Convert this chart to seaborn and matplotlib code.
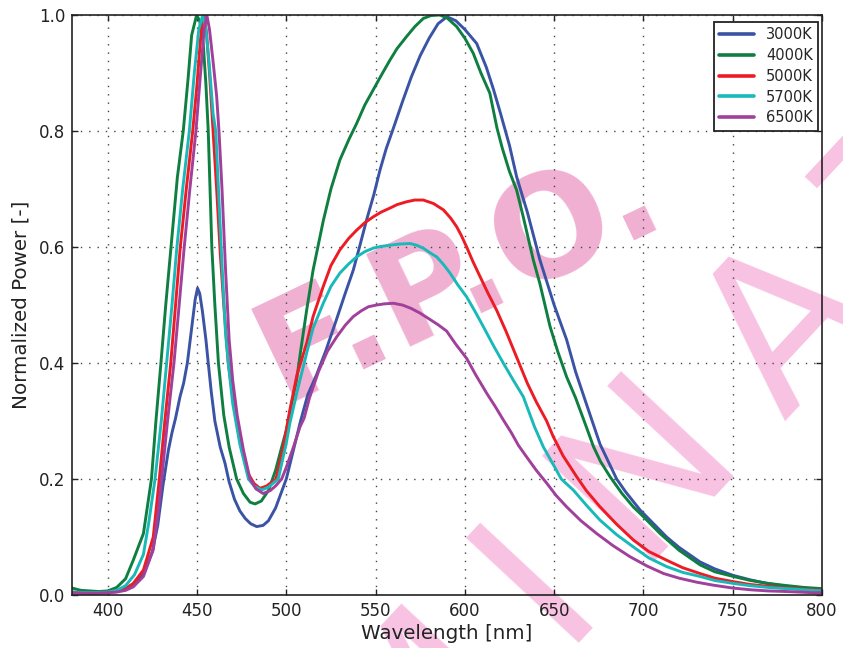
import pandas as pd
import seaborn as sns
from matplotlib import pyplot as plt

# LED spectra
cct_labels = ["3000K", "4000K", "5000K", "5700K", "6500K"]
line_colors = ["#3a53a4", "#0e7f41", "#ed1c24", "#1ab9b9", "#a1409b"]

wl_3000 = [380, 390, 400, 405, 410, 415, 420, 425, 428, 431, 434, 436, 438, 440.5, 442.5, 444.6,
           447, 449, 450.3, 451.5, 453, 455, 456.3, 458, 460, 463, 465.7, 468, 471, 474, 477, 480,
           483.4, 487, 490, 494, 497, 500, 504, 508, 512, 517, 522, 528, 533, 537.5, 541, 545, 549,
           552.5, 556, 560, 565, 570, 575, 580, 585, 590, 595, 600, 606.6, 612, 616, 620, 625, 629,
           635, 642, 650, 657, 662, 668, 675.7, 685, 690, 698, 705, 713, 720, 731.7, 740, 750, 760,
           769, 780, 790, 800]
pw_3000 = [0.005, 0.004, 0.005, 0.007, 0.012, 0.02, 0.036, 0.075, 0.12, 0.19, 0.25, 0.28, 0.305,
           0.342, 0.365, 0.4, 0.46, 0.51, 0.529, 0.52, 0.49, 0.44, 0.4, 0.35, 0.3, 0.255, 0.227,
           0.195, 0.165, 0.145, 0.132, 0.123, 0.118, 0.12, 0.128, 0.15, 0.175, 0.2, 0.25, 0.3,
           0.345, 0.38, 0.42, 0.474, 0.52, 0.56, 0.6, 0.647, 0.69, 0.733, 0.77, 0.805, 0.85, 0.893,
           0.93, 0.96, 0.985, 0.997, 0.99, 0.975, 0.951, 0.91, 0.872, 0.83, 0.775, 0.721, 0.66,
           0.578, 0.5, 0.44, 0.385, 0.33, 0.26, 0.2, 0.178, 0.147, 0.125, 0.1, 0.082, 0.057, 0.045,
           0.034, 0.026, 0.02, 0.015, 0.012, 0.009]

wl_4000 = [380, 385, 390, 395, 400, 405, 410, 414.3, 420, 424.5, 427, 429.8, 432.5, 435.3, 439,
           442.3, 445, 447, 449.8, 451.5, 453.5, 455, 456.3, 458.3, 460, 462, 465, 468, 472.2, 476,
           479.7, 482.5, 486, 490, 494, 497, 500, 503, 505.8, 508, 511.4, 515, 520.7, 525, 530,
           535, 539.4, 544, 548.7, 553, 558, 562, 567.4, 572, 576.7, 581, 586, 590, 595.4, 600,
           604.7, 609, 614, 618, 621, 625, 629, 632.7, 638.3, 642, 647.7, 652, 657, 662, 668, 672,
           676, 681.3, 688, 694.3, 700, 709.3, 720, 731.7, 740, 750.3, 760, 770, 778, 790, 800]
pw_4000 = [0.012, 0.008, 0.007, 0.006, 0.007, 0.013, 0.028, 0.06, 0.106, 0.2, 0.3, 0.4, 0.5,
           0.595, 0.72, 0.8, 0.89, 0.965, 1.0, 0.99, 0.95, 0.88, 0.8, 0.6, 0.5, 0.4, 0.31, 0.255,
           0.2, 0.175, 0.16, 0.157, 0.162, 0.18, 0.215, 0.25, 0.284, 0.33, 0.371, 0.42, 0.491,
           0.56, 0.645, 0.7, 0.75, 0.785, 0.813, 0.845, 0.871, 0.895, 0.922, 0.942, 0.963, 0.98,
           0.994, 0.999, 1.0, 0.995, 0.98, 0.96, 0.934, 0.9, 0.865, 0.805, 0.77, 0.73, 0.698,
           0.652, 0.578, 0.537, 0.463, 0.42, 0.376, 0.34, 0.29, 0.256, 0.23, 0.204, 0.175, 0.152,
           0.135, 0.106, 0.077, 0.052, 0.04, 0.032, 0.025, 0.02, 0.017, 0.013, 0.011]

wl_5000 = [380, 390, 400, 405, 410, 414.3, 420, 425.5, 428.9, 432, 435.3, 438, 440.5, 444, 447.6,
           450, 452, 453.7, 455.3, 457, 459, 461, 463, 465, 467.5, 470.5, 474, 478.5, 482, 485.3,
           489, 494.2, 498.4, 502, 506, 511.4, 515, 520.7, 525, 530, 535, 539.4, 544, 548.7, 553,
           558, 562, 567.4, 572, 576.7, 582.4, 588, 592, 595.4, 598, 601, 604.5, 608.5, 613, 617.8,
           623, 629, 635, 640, 645.8, 649.5, 655, 662.6, 668, 675.7, 685, 694.3, 703, 713, 722,
           731.7, 740, 750.3, 760, 770, 780, 790, 800]
pw_5000 = [0.004, 0.003, 0.004, 0.006, 0.01, 0.02, 0.043, 0.1, 0.2, 0.3, 0.4, 0.5, 0.595, 0.7,
           0.8, 0.88, 0.96, 1.0, 0.97, 0.9, 0.8, 0.7, 0.59, 0.5, 0.4, 0.33, 0.265, 0.21, 0.192,
           0.184, 0.188, 0.2, 0.256, 0.319, 0.38, 0.434, 0.48, 0.532, 0.568, 0.595, 0.615, 0.629,
           0.642, 0.652, 0.66, 0.667, 0.673, 0.678, 0.681, 0.681, 0.675, 0.664, 0.65, 0.635, 0.62,
           0.6, 0.575, 0.549, 0.52, 0.491, 0.455, 0.41, 0.365, 0.333, 0.3, 0.273, 0.24, 0.204,
           0.18, 0.152, 0.122, 0.095, 0.075, 0.06, 0.047, 0.037, 0.029, 0.023, 0.018, 0.015,
           0.012, 0.01, 0.008]

wl_5700 = [380, 390, 400, 405, 410, 415, 420, 423, 426.5, 430, 433, 436, 438.6, 442, 445.7, 448.5,
           451, 453.2, 455, 457, 459, 460.5, 462, 464, 466, 467.5, 470, 474, 478.8, 482, 486.2,
           490, 495.5, 500, 502, 506, 511.4, 515, 520.7, 525, 530, 535, 539.4, 544, 548.7, 553,
           558, 563, 569.3, 573, 576.7, 580.5, 584.2, 588, 591.7, 596, 601, 605.5, 610.3, 616,
           621.5, 627, 632.7, 639, 644, 649.5, 654, 660.7, 668, 675.7, 685, 694.3, 703, 713, 722,
           731.7, 740, 750.3, 760, 770, 780, 790, 800]
pw_5700 = [0.005, 0.004, 0.005, 0.008, 0.016, 0.035, 0.07, 0.125, 0.2, 0.3, 0.4, 0.5, 0.595, 0.7,
           0.8, 0.9, 0.975, 1.0, 0.975, 0.91, 0.83, 0.8, 0.7, 0.57, 0.45, 0.4, 0.33, 0.26, 0.2,
           0.188, 0.181, 0.186, 0.2, 0.262, 0.296, 0.35, 0.417, 0.46, 0.503, 0.532, 0.555, 0.571,
           0.583, 0.592, 0.598, 0.601, 0.603, 0.605, 0.606, 0.603, 0.598, 0.59, 0.583, 0.57,
           0.555, 0.535, 0.514, 0.49, 0.463, 0.43, 0.4, 0.371, 0.342, 0.29, 0.255, 0.225, 0.2,
           0.181, 0.155, 0.129, 0.104, 0.083, 0.064, 0.049, 0.039, 0.032, 0.025, 0.02, 0.016,
           0.013, 0.011, 0.009, 0.007]

wl_6500 = [380, 390, 400, 405, 410, 414.3, 420, 425.5, 428.4, 430.2, 433.5, 437.1, 440, 442.7, 446,
           449.4, 452, 454, 455.5, 457, 459, 461, 462.3, 464, 466, 468, 470, 472.5, 476, 479.7,
           483, 487, 491, 494, 497.4, 500, 504, 507.7, 510, 513, 518, 523, 528.2, 533, 537.5, 542,
           546, 550.6, 555, 560, 565, 570, 574.9, 580, 585, 589.8, 595, 601, 606, 612.2, 617,
           621.5, 626, 630, 634.6, 640, 645.8, 651, 657, 665, 673.8, 683, 692.5, 702, 711.3, 720,
           730, 739, 750, 760, 770, 780, 795, 800]
pw_6500 = [0.004, 0.003, 0.004, 0.005, 0.008, 0.014, 0.032, 0.078, 0.147, 0.2, 0.3, 0.4, 0.5,
           0.595, 0.7, 0.8, 0.9, 0.975, 1.0, 0.975, 0.92, 0.86, 0.8, 0.7, 0.56, 0.44, 0.37, 0.31,
           0.25, 0.2, 0.183, 0.175, 0.18, 0.188, 0.2, 0.22, 0.255, 0.29, 0.305, 0.34, 0.385, 0.42,
           0.445, 0.465, 0.48, 0.49, 0.497, 0.5, 0.502, 0.503, 0.5, 0.494, 0.486, 0.476, 0.466,
           0.455, 0.432, 0.408, 0.38, 0.348, 0.325, 0.302, 0.28, 0.258, 0.238, 0.215, 0.193,
           0.172, 0.152, 0.128, 0.106, 0.085, 0.066, 0.05, 0.037, 0.029, 0.022, 0.017, 0.012,
           0.009, 0.007, 0.006, 0.004, 0.004]

xticks = [400, 450, 500, 550, 600, 650, 700, 750, 800]
yticks = [0.0, 0.2, 0.4, 0.6, 0.8, 1.0]

# watermark letters (figure pixel centres, y from top)
wm_line2 = "MINAT"
wm_line2_pos = [(402, 690), (521, 566), (629, 449), (773, 314), (903, 180)]


def build_frame() -> pd.DataFrame:
    series = [(wl_3000, pw_3000), (wl_4000, pw_4000), (wl_5000, pw_5000),
              (wl_5700, pw_5700), (wl_6500, pw_6500)]
    rows = []
    for label, (wl, pw) in zip(cct_labels, series):
        rows.append(pd.DataFrame({"wavelength": wl, "power": pw, "cct": label}))
    return pd.concat(rows, ignore_index=True)


def main():
    sns.set_style("ticks")
    plt.rcParams["font.family"] = ["DejaVu Sans"]

    W, H = 843, 648
    fig = plt.figure(figsize=(W / 100, H / 100), dpi=100)
    ax = fig.add_axes([72 / W, 53 / H, 750 / W, 580 / H])

    # pink "FPO" watermark, under the grid and the curves
    wm_kw = dict(transform=fig.transFigure, ha="center", va="center_baseline",
                 rotation_mode="anchor", zorder=0.3, clip_on=False)
    ax.text(452 / W, 1 - 262 / H, "F.P.O.", fontsize=101, fontweight="bold",
            color="#f0b0d2", rotation=25.5, **wm_kw)
    for ch, (px, py) in zip(wm_line2, wm_line2_pos):
        ax.text(px / W, 1 - py / H, ch, fontsize=151, color="#f8c2e2", rotation=47, **wm_kw)

    df = build_frame()
    palette = dict(zip(cct_labels, line_colors))
    sns.lineplot(data=df, x="wavelength", y="power", hue="cct", hue_order=cct_labels,
                 palette=palette, linewidth=2.1, estimator=None, sort=True, ax=ax)

    ax.set_xlim(380, 800)
    ax.set_ylim(0, 1)
    ax.set_xticks(xticks)
    ax.set_yticks(yticks)
    ax.grid(True, linestyle=(0, (1, 5)), color="#444444", linewidth=1.0)
    ax.tick_params(direction="in", length=4, width=1, top=True, right=True,
                   labelsize=12, pad=5, colors="#222222")
    for sp in ax.spines.values():
        sp.set_linewidth(1.2)
        sp.set_color("#222222")
    ax.set_xlabel("Wavelength [nm]", fontsize=14.3, color="#222222", labelpad=3)
    ax.set_ylabel("Normalized Power [-]", fontsize=14.3, color="#222222", labelpad=6)

    sns.move_legend(ax, "upper right", bbox_to_anchor=(0.9947, 0.988), borderaxespad=0,
                    frameon=True, fancybox=False, framealpha=1, edgecolor="#222222",
                    fontsize=10.5, handlelength=2.4, labelspacing=0.4, borderpad=0.35,
                    title="")
    leg = ax.get_legend()
    leg.get_frame().set_linewidth(1.3)
    for line in leg.get_lines():
        line.set_linewidth(2.6)

    fig.savefig("out.png", dpi=100)


if __name__ == "__main__":
    main()
